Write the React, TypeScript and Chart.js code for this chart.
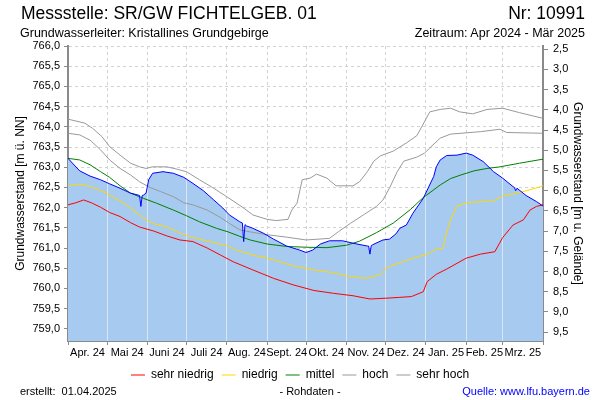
import React, { useEffect, useRef } from "react";
import { Chart, registerables } from "chart.js";

Chart.register(...registerables);

// ---- data ----
const GROUND = 768.42; // Geländehöhe (m ü. NN)
const Y_MIN = 758.7;
const Y_MAX = 766.0;

const monthStarts = [0, 30, 61, 91, 122, 153, 183, 214, 244, 275, 306, 334, 365];
const monthLabels = ["Apr. 24", "Mai 24", "Juni 24", "Juli 24", "Aug. 24", "Sept. 24", "Okt. 24", "Nov. 24", "Dez. 24", "Jan. 25", "Feb. 25", "Mrz. 25"];
const leftTicks = [759.0, 759.5, 760.0, 760.5, 761.0, 761.5, 762.0, 762.5, 763.0, 763.5, 764.0, 764.5, 765.0, 765.5, 766.0];
const rightTicks = [2.5, 3.0, 3.5, 4.0, 4.5, 5.0, 5.5, 6.0, 6.5, 7.0, 7.5, 8.0, 8.5, 9.0, 9.5];

const sehrHochDays = [0, 13, 19, 26, 32, 40, 48, 55, 60, 65, 76, 84, 91, 101, 111, 122, 135, 142, 153, 160, 169, 172, 176, 180, 186, 191, 199, 206, 219, 224, 230, 235, 240, 250, 260, 268, 273, 278, 286, 294, 301, 311, 322, 334, 347, 365];
const sehrHochValues = [764.19, 764.09, 763.96, 763.76, 763.51, 763.30, 763.10, 763.01, 762.97, 763.01, 763.01, 762.95, 762.89, 762.69, 762.50, 762.27, 761.99, 761.82, 761.71, 761.68, 761.71, 761.94, 762.11, 762.69, 762.73, 762.83, 762.73, 762.54, 762.54, 762.64, 762.89, 763.15, 763.28, 763.40, 763.60, 763.78, 764.07, 764.37, 764.43, 764.46, 764.37, 764.32, 764.43, 764.46, 764.35, 764.21];

const hochDays = [0, 9, 17, 25, 32, 40, 48, 55, 63, 71, 81, 89, 96, 107, 117, 124, 132, 140, 153, 168, 183, 201, 208, 217, 227, 237, 242, 247, 253, 258, 268, 274, 279, 286, 294, 317, 332, 337, 365];
const hochValues = [763.84, 763.80, 763.67, 763.43, 763.18, 762.97, 762.81, 762.64, 762.50, 762.40, 762.27, 762.12, 762.07, 761.94, 761.76, 761.61, 761.45, 761.40, 761.33, 761.27, 761.20, 761.24, 761.41, 761.61, 761.82, 762.03, 762.19, 762.48, 762.89, 763.15, 763.25, 763.35, 763.51, 763.72, 763.82, 763.88, 763.94, 763.86, 763.84];

const mittelDays = [0, 9, 17, 25, 32, 40, 48, 58, 68, 81, 91, 101, 114, 123, 132, 140, 153, 168, 183, 199, 214, 224, 237, 250, 263, 273, 286, 294, 302, 312, 322, 332, 347, 365];
const mittelValues = [763.22, 763.18, 763.06, 762.89, 762.75, 762.54, 762.36, 762.23, 762.11, 761.94, 761.80, 761.65, 761.49, 761.40, 761.29, 761.20, 761.10, 761.04, 761.02, 761.01, 761.07, 761.17, 761.38, 761.62, 761.95, 762.25, 762.56, 762.72, 762.81, 762.91, 762.97, 763.01, 763.10, 763.20];

const niedrigDays = [0, 7, 13, 19, 27, 35, 43, 50, 58, 66, 76, 89, 101, 114, 123, 127, 142, 158, 173, 189, 204, 214, 229, 240, 245, 255, 265, 276, 283, 288, 291, 295, 299, 306, 317, 327, 334, 345, 355, 365];
const niedrigValues = [762.54, 762.58, 762.56, 762.50, 762.40, 762.25, 762.11, 761.94, 761.74, 761.60, 761.52, 761.33, 761.22, 761.12, 761.05, 760.97, 760.83, 760.71, 760.56, 760.46, 760.39, 760.31, 760.25, 760.34, 760.52, 760.64, 760.75, 760.85, 760.97, 760.99, 761.40, 761.78, 762.04, 762.12, 762.15, 762.17, 762.29, 762.36, 762.44, 762.54];

const sehrNiedrigDays = [0, 6, 12, 18, 25, 32, 40, 48, 55, 66, 76, 86, 96, 107, 117, 127, 142, 158, 173, 189, 204, 219, 232, 245, 255, 264, 273, 276, 283, 291, 306, 317, 328, 334, 342, 350, 355, 360, 365];
const sehrNiedrigValues = [762.07, 762.12, 762.19, 762.12, 762.01, 761.88, 761.78, 761.63, 761.52, 761.42, 761.30, 761.20, 761.16, 761.00, 760.83, 760.66, 760.46, 760.25, 760.09, 759.95, 759.88, 759.82, 759.74, 759.76, 759.78, 759.80, 759.92, 760.17, 760.35, 760.48, 760.75, 760.85, 760.91, 761.26, 761.57, 761.70, 761.94, 762.03, 762.07];

const messDays = [0, 4, 9, 17, 25, 32, 40, 48, 54, 55, 56, 57, 58, 60, 62, 65, 73, 81, 89, 96, 104, 112, 119, 124, 132, 134, 135, 136, 137, 142, 150, 158, 168, 178, 183, 188, 194, 201, 211, 219, 230, 231, 232, 233, 234, 242, 247, 252, 255, 260, 265, 273, 281, 283, 286, 291, 299, 306, 311, 319, 327, 334, 342, 343, 344, 345, 352, 360, 365];
const messValues = [763.22, 763.08, 762.91, 762.78, 762.69, 762.59, 762.48, 762.36, 762.31, 762.30, 762.03, 762.30, 762.31, 762.36, 762.69, 762.85, 762.89, 762.85, 762.75, 762.60, 762.42, 762.19, 761.99, 761.82, 761.65, 761.62, 761.16, 761.58, 761.55, 761.49, 761.37, 761.22, 761.05, 760.95, 760.89, 760.95, 761.10, 761.18, 761.18, 761.12, 761.05, 761.05, 760.85, 761.06, 761.08, 761.20, 761.22, 761.35, 761.49, 761.57, 761.86, 762.23, 762.77, 763.01, 763.18, 763.29, 763.30, 763.35, 763.30, 763.14, 762.89, 762.73, 762.52, 762.50, 762.42, 762.48, 762.30, 762.15, 762.04];

// ---- styles ----
const FONT = "'Liberation Sans', Arial, Helvetica, sans-serif";
const FILL = "#A6CAF0";
const STRIPE = "#DDE5EE";
const GRID = "#D2D2D2";
const AXIS = "#8A8A8A";

const pts = (d: number[], v: number[]) => d.map((x, i) => ({ x, y: v[i] }));
const monthMids = monthLabels.map((_, i) => (monthStarts[i] + monthStarts[i + 1]) / 2);

const fillStyle = (c: any) => {
  const chart = c.chart;
  const area = chart.chartArea;
  const xs = chart.scales && chart.scales.x;
  if (!area || !xs) return FILL;
  const w = area.right - area.left;
  const g = chart.ctx.createLinearGradient(area.left, 0, area.right, 0);
  g.addColorStop(0, FILL);
  monthStarts.slice(1, -1).forEach((d) => {
    const col = Math.round(xs.getPixelForValue(d) - 0.5);
    const t1 = Math.max(0, Math.min(1, (col - area.left) / w));
    const t2 = Math.max(0, Math.min(1, (col + 1 - area.left) / w));
    g.addColorStop(t1, FILL);
    g.addColorStop(t1, STRIPE);
    g.addColorStop(t2, STRIPE);
    g.addColorStop(t2, FILL);
  });
  g.addColorStop(1, FILL);
  return g;
};

const fmt = (v: any) => Number(v).toFixed(1).replace(".", ",");

export default function App() {
  const ref = useRef<HTMLCanvasElement | null>(null);

  useEffect(() => {
    if (!ref.current) return;
    Chart.defaults.font.family = FONT;
    const line = (label: string, d: number[], v: number[], color: string) => ({
      label,
      data: pts(d, v),
      borderColor: color,
      backgroundColor: color,
      borderWidth: 1,
      pointRadius: 0,
      pointStyle: "line",
      tension: 0,
      fill: false,
    });
    const chart = new Chart(ref.current, {
      type: "line",
      data: {
        datasets: [
          {
            label: "Messwerte",
            data: pts(messDays, messValues),
            borderColor: "#0000FF",
            backgroundColor: fillStyle,
            borderWidth: 1,
            pointRadius: 0,
            tension: 0,
            fill: "start",
          } as any,
          line("sehr niedrig", sehrNiedrigDays, sehrNiedrigValues, "#FF0000"),
          line("niedrig", niedrigDays, niedrigValues, "#FFD800"),
          line("mittel", mittelDays, mittelValues, "#008000"),
          line("hoch", hochDays, hochValues, "#999999"),
          line("sehr hoch", sehrHochDays, sehrHochValues, "#999999"),
        ],
      },
      options: {
        animation: false,
        responsive: false,
        devicePixelRatio: 1,
        layout: { padding: { top: 46, left: 0, right: 0, bottom: 9 } },
        plugins: {
          filler: { drawTime: "beforeDatasetsDraw" },
          tooltip: { enabled: false },
          title: { display: false },
          legend: {
            display: true,
            position: "bottom",
            labels: {
              filter: (item: any) => item.datasetIndex !== 0,
              usePointStyle: true,
              pointStyle: "line",
              pointStyleWidth: 14,
              padding: 8,
              color: "#000",
              font: { size: 12, family: FONT },
            },
          },
        } as any,
        scales: {
          x: {
            type: "linear",
            min: 0,
            max: 365,
            afterBuildTicks: (s: any) => {
              const vals = [...monthStarts, ...monthMids].sort((a, b) => a - b);
              s.ticks = vals.map((v) => ({ value: v }));
            },
            afterFit: (s: any) => {
              s.height = 20;
            },
            ticks: {
              autoSkip: false,
              maxRotation: 0,
              minRotation: 0,
              padding: 1,
              color: "#000",
              font: { size: 11, family: FONT },
              callback: (v: any) => {
                const i = monthMids.indexOf(Number(v));
                return i >= 0 ? monthLabels[i] : "";
              },
            },
            grid: {
              color: (c: any) => {
                const v = c.tick ? c.tick.value : -1;
                return v > 0 && v < 365 && monthStarts.includes(v) ? GRID : "rgba(0,0,0,0)";
              },
              tickColor: (c: any) => {
                const v = c.tick ? c.tick.value : -1;
                return monthStarts.includes(v) ? AXIS : "rgba(0,0,0,0)";
              },
              tickLength: 4,
              tickBorderDash: [],
              lineWidth: 1,
            },
            border: { display: true, color: AXIS, width: 1, dash: [3, 3] },
          },
          y: {
            type: "linear",
            position: "left",
            min: Y_MIN,
            max: Y_MAX,
            afterBuildTicks: (s: any) => {
              s.ticks = leftTicks.map((v) => ({ value: v }));
            },
            afterFit: (s: any) => {
              s.width = 68;
            },
            ticks: {
              padding: 4,
              color: "#000",
              font: { size: 11, family: FONT },
              callback: fmt,
            },
            grid: {
              color: GRID,
              tickColor: AXIS,
              tickLength: 4,
              tickBorderDash: [],
              lineWidth: 1,
            },
            border: { display: true, color: AXIS, width: 2, dash: [3, 3] },
            title: {
              display: true,
              text: "Grundwasserstand [m ü. NN]",
              color: "#000",
              font: { size: 12, family: FONT },
              padding: { top: 13, bottom: 0 },
            },
          },
          y2: {
            type: "linear",
            position: "right",
            reverse: true,
            min: GROUND - Y_MAX,
            max: GROUND - Y_MIN,
            afterBuildTicks: (s: any) => {
              s.ticks = rightTicks.map((v) => ({ value: v }));
            },
            afterFit: (s: any) => {
              s.width = 57;
            },
            ticks: {
              padding: 5,
              color: "#000",
              font: { size: 11, family: FONT },
              callback: fmt,
            },
            grid: {
              drawOnChartArea: false,
              tickColor: AXIS,
              tickLength: 5,
              tickBorderDash: [],
            },
            border: { display: true, color: AXIS, width: 2 },
            title: {
              display: true,
              text: "Grundwasserstand [m u. Gelände]",
              color: "#000",
              font: { size: 12, family: FONT },
              padding: { top: 15, bottom: 0 },
            },
          },
        } as any,
      },
    });
    return () => chart.destroy();
  }, []);

  const txt: React.CSSProperties = { position: "absolute", fontFamily: FONT, color: "#000", whiteSpace: "pre", lineHeight: 1 };

  return (
    <div style={{ position: "absolute", left: 0, top: 0, width: 600, height: 400, background: "#fff", overflow: "hidden" }}>
      <canvas ref={ref} width={600} height={400} style={{ position: "absolute", left: 0, top: 0, width: 600, height: 400 }} />
      <div style={{ ...txt, left: 21, top: 5, fontSize: 17.5 }}>Messstelle: SR/GW FICHTELGEB. 01</div>
      <div style={{ ...txt, right: 15, top: 5, fontSize: 17.5 }}>Nr: 10991</div>
      <div style={{ ...txt, left: 20, top: 27, fontSize: 12.5 }}>Grundwasserleiter: Kristallines Grundgebirge</div>
      <div style={{ ...txt, right: 15, top: 27, fontSize: 12.5 }}>Zeitraum: Apr 2024 - Mär 2025</div>
      <div style={{ ...txt, left: 20, top: 386, fontSize: 11 }}>erstellt:  01.04.2025</div>
      <div style={{ ...txt, left: 310, top: 386, fontSize: 11, transform: "translateX(-50%)" }}>- Rohdaten -</div>
      <div style={{ ...txt, right: 10, top: 386, fontSize: 11, color: "#0000FF" }}>Quelle: www.lfu.bayern.de</div>
    </div>
  );
}
